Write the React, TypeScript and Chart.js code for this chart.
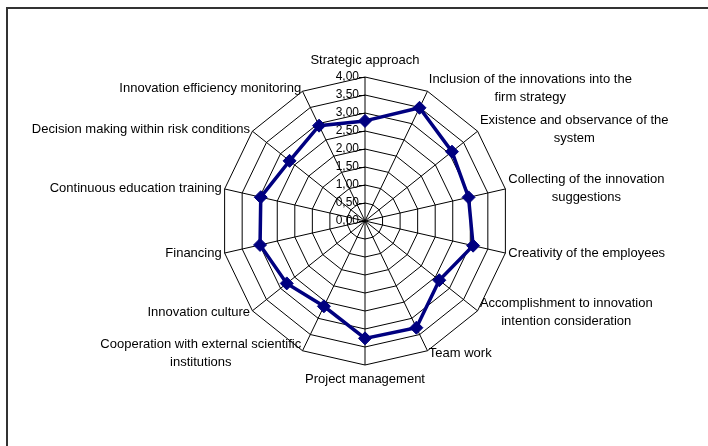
import React, { useEffect, useRef } from 'react';
import { Chart, registerables } from 'chart.js';

Chart.register(...registerables);

const CATEGORIES: (string | string[])[] = [
  'Strategic approach',
  ['Inclusion of the innovations into the', 'firm strategy'],
  ['Existence and observance of the', 'system'],
  ['Collecting of the innovation', 'suggestions'],
  'Creativity of the employees',
  ['Accomplishment to innovation', 'intention consideration'],
  'Team work',
  'Project management',
  ['Cooperation with external scientific', 'institutions'],
  'Innovation culture',
  'Financing',
  'Continuous education training',
  'Decision making within risk conditions',
  'Innovation efficiency monitoring',
];

const VALUES = [2.78, 3.49, 3.09, 2.95, 3.08, 2.64, 3.29, 3.26, 2.63, 2.78, 2.99, 2.97, 2.68, 2.94];

const TICK_LABELS = ['0,00', '0,50', '1,00', '1,50', '2,00', '2,50', '3,00', '3,50', '4,00'];

const FONT_FAMILY = '"Liberation Sans", Arial, sans-serif';

const excelLabels = {
  id: 'excelLabels',
  beforeDatasetsDraw(chart: any) {
    const scale = chart.scales.r;
    const ctx = chart.ctx as CanvasRenderingContext2D;
    ctx.save();
    ctx.font = `12px ${FONT_FAMILY}`;
    ctx.fillStyle = '#000';
    ctx.strokeStyle = '#000';
    ctx.lineWidth = 1;
    ctx.textAlign = 'right';
    ctx.textBaseline = 'middle';
    scale.ticks.forEach((t: any, i: number) => {
      const y = scale.yCenter - scale.getDistanceFromCenterForValue(t.value);
      ctx.beginPath();
      ctx.moveTo(scale.xCenter - 6, Math.round(y) + 0.5);
      ctx.lineTo(scale.xCenter, Math.round(y) + 0.5);
      ctx.stroke();
      ctx.fillText(TICK_LABELS[i] ?? '', scale.xCenter - 6, y);
    });
    ctx.restore();
  },
  afterDraw(chart: any) {
    const scale = chart.scales.r;
    const ctx = chart.ctx as CanvasRenderingContext2D;
    const labels = chart.data.labels as (string | string[])[];
    const lineH = 17.5;
    ctx.save();
    ctx.font = `13px ${FONT_FAMILY}`;
    ctx.fillStyle = '#000';
    ctx.textAlign = 'center';
    ctx.textBaseline = 'middle';
    labels.forEach((label, i) => {
      const lines = Array.isArray(label) ? label : [label];
      const deg = (scale.getIndexAngle(i) * 180) / Math.PI;
      const p = scale.getPointPosition(i, scale.drawingArea + 3);
      const blockW = Math.max(...lines.map((l) => ctx.measureText(l).width));
      const blockH = lines.length * lineH;
      let cx: number;
      let top: number;
      if (deg < 1 || deg > 359) {
        cx = p.x;
        top = p.y - 5 - blockH;
      } else if (Math.abs(deg - 180) < 1) {
        cx = p.x;
        top = p.y + 3;
      } else if (deg < 180) {
        cx = p.x + blockW / 2;
        top = p.y - blockH / 2;
      } else {
        cx = p.x - blockW / 2;
        top = p.y - blockH / 2;
      }
      lines.forEach((l, j) => {
        ctx.fillText(l, cx, top + lineH * (j + 0.5));
      });
    });
    ctx.restore();
  },
};

export default function App() {
  const ref = useRef<HTMLCanvasElement | null>(null);

  useEffect(() => {
    if (!ref.current) return;
    const chart = new Chart(ref.current, {
      type: 'radar',
      data: {
        labels: CATEGORIES,
        datasets: [
          {
            data: VALUES,
            borderColor: '#000080',
            backgroundColor: 'rgba(0,0,0,0)',
            borderWidth: 3.5,
            fill: false,
            pointStyle: 'rectRot',
            pointRadius: 6.5,
            pointHoverRadius: 6.5,
            pointBackgroundColor: '#000080',
            pointBorderColor: '#000080',
            pointBorderWidth: 1,
          },
        ],
      },
      options: {
        animation: false,
        responsive: false,
        devicePixelRatio: 1,
        layout: { padding: { left: 221, top: 77, right: 199, bottom: 81 } },
        plugins: { legend: { display: false }, tooltip: { enabled: false } },
        scales: {
          r: {
            min: 0,
            max: 4,
            ticks: { display: false, stepSize: 0.5 },
            pointLabels: { display: false },
            grid: { color: '#000', lineWidth: 1, circular: false },
            angleLines: { color: '#000', lineWidth: 1 },
          },
        },
      },
      plugins: [excelLabels],
    });
    return () => chart.destroy();
  }, []);

  return (
    <>
      <div
        style={{
          position: 'fixed',
          left: 6,
          top: 7,
          right: 0,
          bottom: 0,
          borderTop: '2px solid #333',
          borderLeft: '2px solid #333',
        }}
      />
      <canvas
        ref={ref}
        width={708}
        height={446}
        style={{ position: 'fixed', left: 0, top: 0, width: 708, height: 446 }}
      />
    </>
  );
}
